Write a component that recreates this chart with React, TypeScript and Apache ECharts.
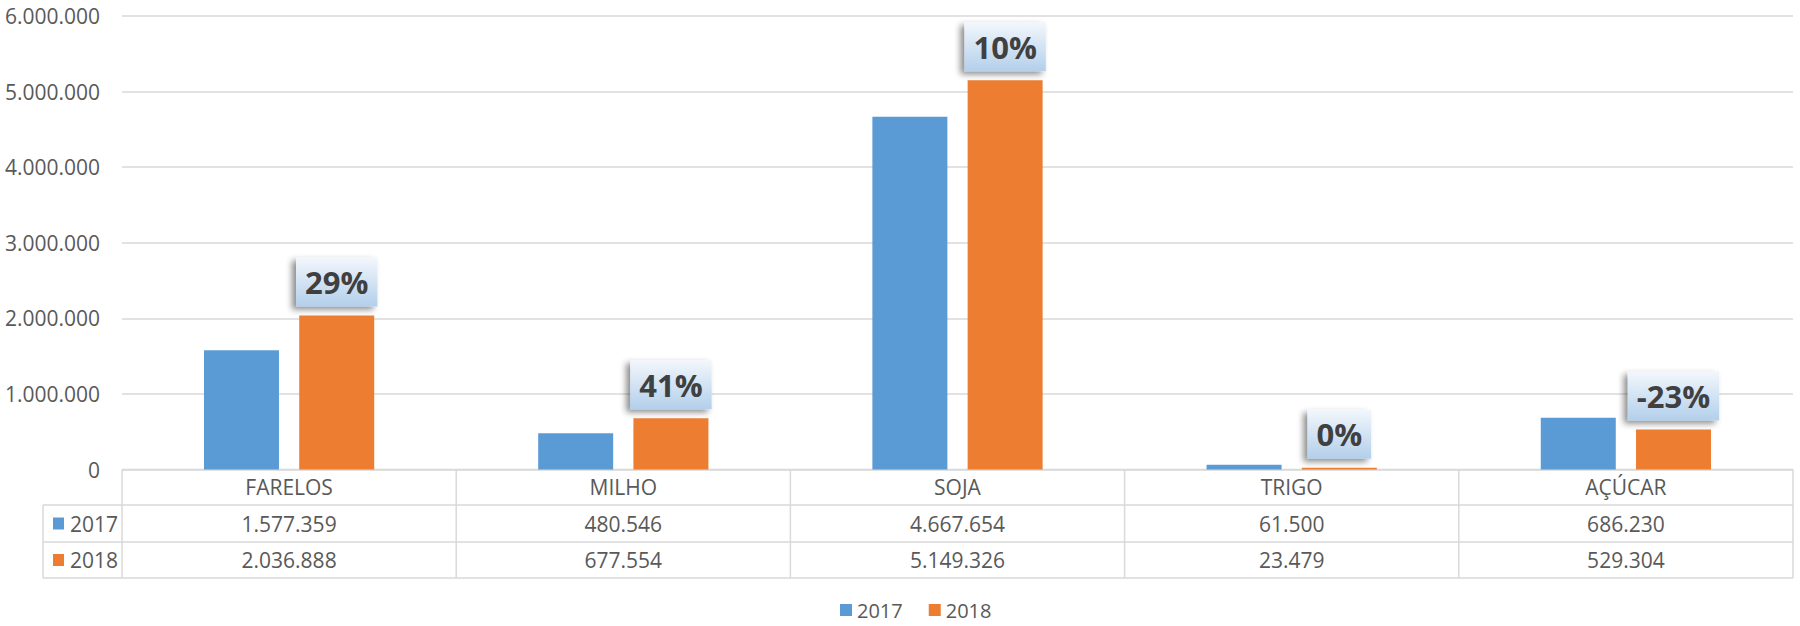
import React, { useEffect, useRef } from "react";
import * as echarts from "echarts";

const categories = ["FARELOS", "MILHO", "SOJA", "TRIGO", "AÇÚCAR"];
const seriesNames = ["2017", "2018"];
const values2017 = [1577359, 480546, 4667654, 61500, 686230];
const values2018 = [2036888, 677554, 5149326, 23479, 529304];
const changeLabels = ["29%", "41%", "10%", "0%", "-23%"];
const colors = ["#5B9BD5", "#ED7D31"];

const W = 1800;
const H = 626;
const GRID_LEFT = 122;
const GRID_RIGHT = 7;
const GRID_TOP = 16;
const GRID_BOTTOM = 156.5;
const FONT = "'Open Sans', sans-serif";
const FS = 21;
const TEXT_COLOR = "#595959";
const LINE_COLOR = "#d9d9d9";

const fmt = (v: number) => String(v).replace(/\B(?=(\d{3})+(?!\d))/g, ".");

export default function App() {
  const ref = useRef<HTMLDivElement>(null);
  useEffect(() => {
    document.body.style.margin = "0";
    if (!ref.current) return;
    const chart = echarts.init(ref.current, null, { renderer: "svg" });

    const plotW = W - GRID_LEFT - GRID_RIGHT;
    const catW = plotW / categories.length;
    const zeroY = H - GRID_BOTTOM;
    const rowTops = [zeroY, 505, 542, 578];
    const tableLeft = 43;
    const graphics: any[] = [];
    const lineStyle = { stroke: LINE_COLOR, lineWidth: 1.5 };
    graphics.push({ type: "line", shape: { x1: GRID_LEFT, y1: rowTops[0], x2: W - GRID_RIGHT, y2: rowTops[0] }, style: lineStyle, silent: true });
    for (let r = 1; r < rowTops.length; r++) {
      graphics.push({ type: "line", shape: { x1: tableLeft, y1: rowTops[r], x2: W - GRID_RIGHT, y2: rowTops[r] }, style: lineStyle, silent: true });
    }
    graphics.push({ type: "line", shape: { x1: tableLeft, y1: rowTops[1], x2: tableLeft, y2: rowTops[3] }, style: lineStyle, silent: true });
    for (let c = 0; c <= categories.length; c++) {
      const x = GRID_LEFT + c * catW;
      graphics.push({ type: "line", shape: { x1: x, y1: rowTops[0], x2: x, y2: rowTops[3] }, style: lineStyle, silent: true });
    }
    const rows = [values2017, values2018];
    categories.forEach((cat, i) => {
      const cx = GRID_LEFT + (i + 0.5) * catW;
      graphics.push({
        type: "text", x: cx, y: (rowTops[0] + rowTops[1]) / 2,
        style: { text: cat, fill: TEXT_COLOR, font: `${FS}px ${FONT}`, textAlign: "center", textVerticalAlign: "middle" }, silent: true,
      });
      rows.forEach((vals, r) => {
        graphics.push({
          type: "text", x: cx, y: (rowTops[r + 1] + rowTops[r + 2]) / 2,
          style: { text: fmt(vals[i]), fill: TEXT_COLOR, font: `${FS}px ${FONT}`, textAlign: "center", textVerticalAlign: "middle" }, silent: true,
        });
      });
    });
    seriesNames.forEach((name, r) => {
      const cy = (rowTops[r + 1] + rowTops[r + 2]) / 2;
      graphics.push({ type: "rect", shape: { x: 53, y: cy - 6, width: 11, height: 12 }, style: { fill: colors[r] }, silent: true });
      graphics.push({
        type: "text", x: 70, y: cy,
        style: { text: name, fill: TEXT_COLOR, font: `${FS}px ${FONT}`, textAlign: "left", textVerticalAlign: "middle" }, silent: true,
      });
    });

    const labelBg = new echarts.graphic.LinearGradient(0, 0, 0, 1, [
      { offset: 0, color: "#f2f7fc" },
      { offset: 1, color: "#b3cfeb" },
    ]);

    chart.setOption({
      animation: false,
      backgroundColor: "#ffffff",
      textStyle: { fontFamily: FONT },
      grid: { left: GRID_LEFT, right: GRID_RIGHT, top: GRID_TOP, bottom: GRID_BOTTOM, containLabel: false },
      legend: {
        data: seriesNames,
        bottom: 1,
        left: 835,
        itemWidth: 12,
        itemHeight: 12,
        itemGap: 26,
        icon: "rect",
        textStyle: { color: TEXT_COLOR, fontSize: 20, fontFamily: FONT },
      },
      xAxis: {
        type: "category",
        data: categories,
        axisLine: { show: false },
        axisTick: { show: false },
        axisLabel: { show: false },
        splitLine: { show: false },
      },
      yAxis: {
        type: "value",
        min: 0,
        max: 6000000,
        interval: 1000000,
        axisLine: { show: false },
        axisTick: { show: false },
        axisLabel: { color: TEXT_COLOR, fontSize: FS, fontFamily: FONT, margin: 22, formatter: (v: number) => fmt(v) },
        splitLine: { lineStyle: { color: LINE_COLOR, width: 1.5 } },
      },
      series: [
        {
          name: seriesNames[0],
          type: "bar",
          data: values2017,
          barWidth: 75,
          barGap: "27%",
          itemStyle: { color: colors[0] },
        },
        {
          name: seriesNames[1],
          type: "bar",
          data: values2018.map((v, i) => ({
            value: v,
            label: { formatter: changeLabels[i] },
          })),
          barWidth: 75,
          barGap: "27%",
          itemStyle: { color: colors[1] },
          label: {
            show: true,
            position: "top",
            distance: 9,
            color: "#404040",
            fontSize: 31,
            fontWeight: "bold",
            fontFamily: FONT,
            lineHeight: 31,
            padding: [9, 9, 9, 9],
            backgroundColor: labelBg,
            shadowColor: "rgba(0,0,0,0.45)",
            shadowBlur: 6,
            shadowOffsetX: -4,
            shadowOffsetY: 3,
          },
        },
      ],
      graphic: graphics,
    });
    return () => chart.dispose();
  }, []);
  return <div ref={ref} style={{ width: W, height: H }} />;
}
